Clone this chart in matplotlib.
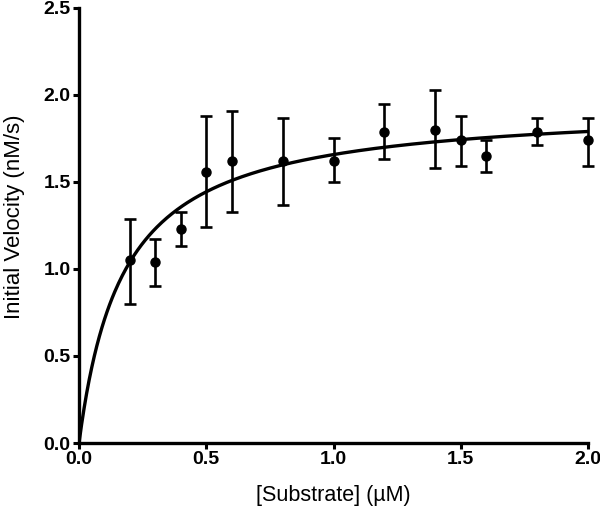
import numpy as np
import matplotlib
matplotlib.use("Agg")
import matplotlib.pyplot as plt

plt.rcParams['font.family'] = ['Liberation Sans', 'DejaVu Sans']

# Measured initial velocities (mean and error bar ends)
substrate = [0.2, 0.3, 0.4, 0.5, 0.6, 0.8, 1.0, 1.2, 1.4, 1.5, 1.6, 1.8, 2.0]
velocity = [1.05, 1.04, 1.23, 1.56, 1.62, 1.62, 1.62, 1.79, 1.80, 1.74, 1.65, 1.79, 1.74]
err_low = [0.80, 0.90, 1.13, 1.24, 1.33, 1.37, 1.50, 1.63, 1.58, 1.59, 1.56, 1.71, 1.59]
err_high = [1.29, 1.17, 1.33, 1.88, 1.91, 1.87, 1.75, 1.95, 2.03, 1.88, 1.74, 1.87, 1.87]

# Michaelis-Menten fit parameters
vmax = 1.946
km = 0.174

x_ticks = [0.0, 0.5, 1.0, 1.5, 2.0]
y_ticks = [0.0, 0.5, 1.0, 1.5, 2.0, 2.5]

fig = plt.figure(figsize=(6.0, 5.15), dpi=100)
ax = fig.add_axes([0.1317, 0.1398, 0.8483, 0.8447])

v = np.array(velocity)
yerr = [v - np.array(err_low), np.array(err_high) - v]
ax.errorbar(substrate, velocity, yerr=yerr, fmt='o', color='black',
            markersize=6.5, elinewidth=1.9, capsize=4.5, capthick=1.9,
            clip_on=False, zorder=3)

s_fit = np.linspace(0, 2.0, 400)
ax.plot(s_fit, vmax * s_fit / (km + s_fit), color='black', linewidth=2.4,
        solid_capstyle='butt', zorder=2)

ax.set_xlim(0, 2.0)
ax.set_ylim(0, 2.5)
ax.set_xticks(x_ticks)
ax.set_yticks(y_ticks)
ax.set_xticklabels([f'{t:.1f}' for t in x_ticks], fontweight='bold', fontsize=14)
ax.set_yticklabels([f'{t:.1f}' for t in y_ticks], fontweight='bold', fontsize=14)

for side in ['top', 'right']:
    ax.spines[side].set_visible(False)
for side in ['left', 'bottom']:
    ax.spines[side].set_linewidth(2.4)
ax.tick_params(width=2.2, length=4.5, direction='out', pad=1.5)

ax.set_xlabel('[Substrate] (\u00b5M)', fontsize=15.5, labelpad=12)
ax.set_ylabel('Initial Velocity (nM/s)', fontsize=16, labelpad=13)
ax.yaxis.label.set_y(0.52)

fig.savefig('out.png', dpi=100)
